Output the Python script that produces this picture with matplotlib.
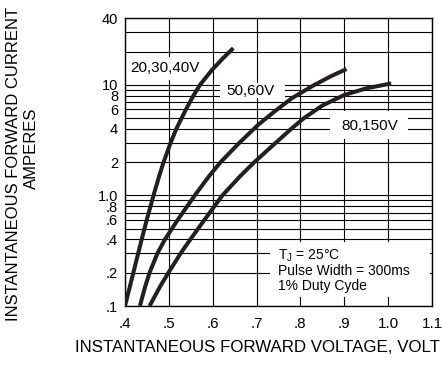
import matplotlib
matplotlib.use('Agg')
import matplotlib.pyplot as plt
from matplotlib.ticker import FixedLocator, FixedFormatter, NullFormatter
from matplotlib.patches import Rectangle

plt.rcParams['font.family'] = ['Liberation Sans', 'DejaVu Sans']
plt.rcParams['mathtext.fontset'] = 'custom'
plt.rcParams['mathtext.rm'] = 'Liberation Sans'

# ---- data ----
series_labels = ['20,30,40V', '50,60V', '80,150V']

v_20_40 = [0.400, 0.419, 0.438, 0.4495, 0.465, 0.478, 0.488, 0.504, 0.517,
           0.539, 0.556, 0.571, 0.598, 0.624, 0.639, 0.647]
i_20_40 = [0.1, 0.2, 0.4, 0.6, 1.0, 1.5, 2, 3, 4,
           6, 8, 10, 13.6, 17.5, 20, 21.5]

v_50_60 = [0.434, 0.446, 0.456, 0.474, 0.491, 0.520, 0.559, 0.592, 0.618,
           0.661, 0.703, 0.740, 0.780, 0.828, 0.870, 0.905]
i_50_60 = [0.1, 0.15, 0.2, 0.3, 0.4, 0.6, 1.0, 1.5, 2,
           3, 4.33, 5.71, 7.55, 9.8, 12.0, 13.9]

v_80_150 = [0.456, 0.480, 0.499, 0.527, 0.549, 0.581, 0.622, 0.663, 0.695,
            0.744, 0.779, 0.808, 0.850, 0.900, 0.950, 1.007]
i_80_150 = [0.1, 0.15, 0.2, 0.3, 0.4, 0.6, 1.0, 1.5, 2,
            3, 4, 5, 6.5, 8.1, 9.3, 10.3]

x_ticks = [0.4, 0.5, 0.6, 0.7, 0.8, 0.9, 1.0, 1.1]
x_ticklabels = ['.4', '.5', '.6', '.7', '.8', '.9', '1.0', '1.1']
y_ticks = [0.1, 0.2, 0.4, 0.6, 0.8, 1.0, 2, 4, 6, 8, 10, 40]
y_ticklabels = ['.1', '.2', '.4', '.6', '.8', '1.0', '2', '4', '6', '8', '10', '40']
y_grid = [0.1, 0.2, 0.3, 0.4, 0.5, 0.6, 0.7, 0.8, 0.9,
          1, 2, 3, 4, 5, 6, 7, 8, 9, 10, 20, 30, 40]

# ---- figure ----
W, H = 442, 366
fig = plt.figure(figsize=(W / 100, H / 100), dpi=100)
ax = fig.add_axes([125 / W, 1 - 306 / H, 307 / W, (306 - 18.3) / H])
ax.set_yscale('log')
ax.set_xlim(0.4, 1.1)
ax.set_ylim(0.1, 40)
ax.set_axisbelow(True)

ax.xaxis.set_major_locator(FixedLocator(x_ticks))
ax.xaxis.set_major_formatter(FixedFormatter(x_ticklabels))
ax.yaxis.set_major_locator(FixedLocator(y_ticks))
ax.yaxis.set_major_formatter(FixedFormatter(y_ticklabels))
ax.yaxis.set_minor_locator(FixedLocator(y_grid))
ax.yaxis.set_minor_formatter(NullFormatter())

ax.grid(True, which='both', axis='both', color='black', lw=0.8)
ax.tick_params(which='both', length=0, labelsize=10.5, colors='black')
ax.tick_params(axis='y', pad=5)
ax.tick_params(axis='x', pad=8, labelsize=11)
for s in ax.spines.values():
    s.set_color('black')
    s.set_linewidth(1.0)

curve_color = '#231f20'
for v, i in [(v_20_40, i_20_40), (v_50_60, i_50_60), (v_80_150, i_80_150)]:
    ax.plot(v, i, color=curve_color, lw=2.9, solid_joinstyle='round',
            solid_capstyle='butt', zorder=3)

# white boxes behind labels (interrupt grid)
def box(v0, v1, i0, i1):
    ax.add_patch(Rectangle((v0, i0), v1 - v0, i1 - i0, facecolor='white',
                           edgecolor='none', zorder=2))

box(0.402, 0.583, 11.0, 17.9)
box(0.617, 0.765, 7.6, 10.5)
box(0.868, 1.046, 3.24, 5.8)
box(0.731, 1.096, 0.121, 0.379)

ax.text(0.491, 13.1, series_labels[0], ha='center', va='baseline', fontsize=11, zorder=4)
ax.text(0.685, 8.09, series_labels[1], ha='center', va='baseline', fontsize=11, zorder=4)
ax.text(0.959, 3.90, series_labels[2], ha='center', va='baseline', fontsize=11, zorder=4)

ax.text(0.749, 0.263, r'T$_\mathregular{J}$ = 25°C', ha='left', va='baseline', fontsize=10, zorder=4)
ax.text(0.749, 0.1907, 'Pulse Width = 300ms', ha='left', va='baseline', fontsize=10, zorder=4)
ax.text(0.749, 0.141, '1% Duty Cyde', ha='left', va='baseline', fontsize=10, zorder=4)

fig.text(75 / W, 1 - 348 / H, 'INSTANTANEOUS FORWARD VOLTAGE, VOLT',
         ha='left', va='center', fontsize=12.2)
fig.text(13.5 / W, 1 - 163.5 / H, 'INSTANTANEOUS FORWARD CURRENT',
         rotation=90, ha='center', va='center', fontsize=12)
fig.text(31.7 / W, 1 - 148.5 / H, 'AMPERES',
         rotation=90, ha='center', va='center', fontsize=12)

fig.savefig('out.png', dpi=100)
